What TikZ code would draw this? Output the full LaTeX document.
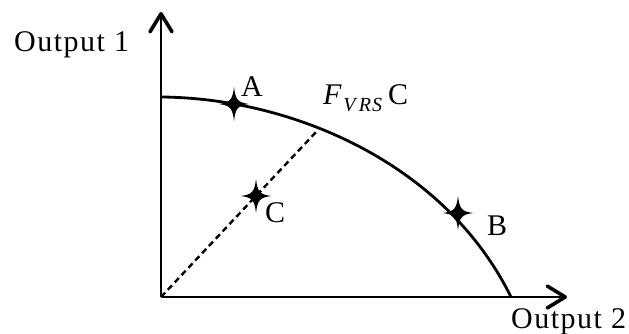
\documentclass[tikz,border=0pt]{standalone}
\usepackage{fontspec}
\setmainfont[LetterSpace=5]{Liberation Serif}
\usetikzlibrary{arrows.meta}
\begin{document}
\begin{tikzpicture}[x=1pt,y=-1pt,
  axis/.style={line width=2.6pt,-{Straight Barb[length=18pt,width=22pt,line width=3.6pt,round]}},
  frontier/.style={line width=2.8pt},
  ray/.style={line width=2.4pt,dash pattern=on 6pt off 4pt},
  lab/.style={inner sep=0pt,anchor=base west,font=\fontsize{30}{32}\selectfont},
  starmark/.pic={\fill (0,-17) .. controls (1.5,-4) and (4,-1.5) .. (15,0) .. controls (4,1.5) and (1.5,4) .. (0,17) .. controls (-1.5,4) and (-4,1.5) .. (-15,0) .. controls (-4,-1.5) and (-1.5,-4) .. (0,-17);}
]
\useasboundingbox (0,0) rectangle (629,334);
\coordinate (O) at (161,297);
\coordinate (ytip) at (161,12);
\coordinate (xtip) at (567,297);
\coordinate (f0) at (161,97);
\coordinate (f1) at (511,297);
\coordinate (rayend) at (317,131);
\draw[axis] (O) -- (ytip);
\draw[axis] (O) -- (xtip);
\draw[frontier] (f0) .. controls (292,98) and (445,163) .. (f1);
\draw[ray] (O) -- (rayend);
\pic at (234,104) {starmark};
\pic at (256,196) {starmark};
\pic at (458,213) {starmark};
\node[lab] (out1) at (14,52) {Output 1};
\node[lab] (out2) at (511,328) {Output 2};
\node[lab] (la) at (241,97) {A};
\node[lab] (lc) at (265,222) {C};
\node[lab] (lb) at (487,235) {B};
\node[lab] (lf) at (323,105) {\textit{F}\raisebox{-7pt}{\fontsize{20}{20}\selectfont\textit{V\,RS}}\,C};
\end{tikzpicture}
\end{document}
